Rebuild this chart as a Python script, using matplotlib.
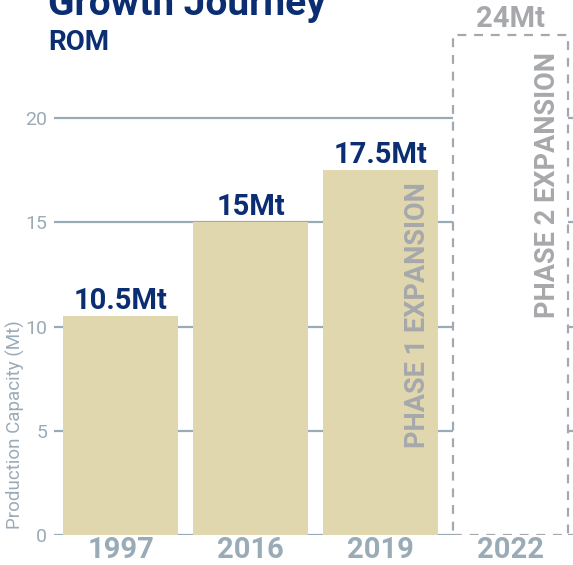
import matplotlib
matplotlib.use("Agg")
import matplotlib.pyplot as plt
from matplotlib.patches import Rectangle

# data
years = ["1997", "2016", "2019", "2022"]
capacity = [10.5, 15, 17.5]
planned = 24
bar_labels = ["10.5Mt", "15Mt", "17.5Mt"]
planned_label = "24Mt"
yticks = [0, 5, 10, 15, 20]

navy = "#0b2d72"
grid_col = "#9aabb8"
bar_col = "#e0d7ae"
phase_col = "#a6a8ab"

plt.rcParams["font.family"] = ["Roboto", "DejaVu Sans"]

fig = plt.figure(figsize=(5.73, 5.65), dpi=100)
ax = fig.add_axes([54 / 573, 30 / 565, 519 / 573, 521 / 565])

x = list(range(len(years)))
ax.set_xlim(-0.512, 3.48)
ax.set_ylim(0, 25)

for y in yticks:
    ax.axhline(y, color=grid_col, lw=1.6, zorder=0)

bars = ax.bar(x[:3], capacity, width=0.885, color=bar_col, zorder=2)
box = Rectangle((x[3] - 0.4425, 0), 0.885, planned, facecolor="white",
                edgecolor=phase_col, lw=1.6, linestyle=(0, (4, 3.5)), zorder=2)
ax.add_patch(box)

for b, lab in zip(bars, bar_labels):
    ax.annotate(lab, (b.get_x() + b.get_width() / 2, b.get_height()),
                xytext=(0, 1), textcoords="offset points", ha="center", va="bottom",
                fontsize=21, fontweight="bold", color=navy, zorder=4)
ax.annotate(planned_label, (x[3], planned), xytext=(0, 1), textcoords="offset points",
            ha="center", va="bottom", fontsize=21, fontweight="bold", color=phase_col)

ax.text(2.285, 10.55, "PHASE 1 EXPANSION", rotation=90, ha="center", va="center",
        fontsize=19.5, fontweight="bold", color=phase_col, zorder=4)
ax.text(3.285, 16.8, "PHASE 2 EXPANSION", rotation=90, ha="center", va="center",
        fontsize=19.5, fontweight="bold", color=phase_col, zorder=4)

ax.set_xticks(x)
ax.set_xticklabels(years, fontsize=21, fontweight="bold", color=grid_col)
ax.set_yticks(yticks)
ax.set_yticklabels([str(v) for v in yticks], fontsize=14, color=grid_col)
ax.tick_params(length=0)
ax.tick_params(axis="x", pad=1)
ax.tick_params(axis="y", pad=5)
for s in ax.spines.values():
    s.set_visible(False)

fig.text(15 / 573, 1 - 425 / 565, "Production Capacity (Mt)", rotation=90,
         ha="center", va="center", fontsize=13.5, color=grid_col)

fig.text(48 / 573, 1 - 15 / 565, "Growth Journey", ha="left", va="baseline",
         fontsize=28, fontweight="bold", color=navy)
fig.text(48 / 573, 1 - 50 / 565, "ROM", ha="left", va="baseline",
         fontsize=20, fontweight="bold", color=navy)

fig.savefig("out.png", dpi=100)
